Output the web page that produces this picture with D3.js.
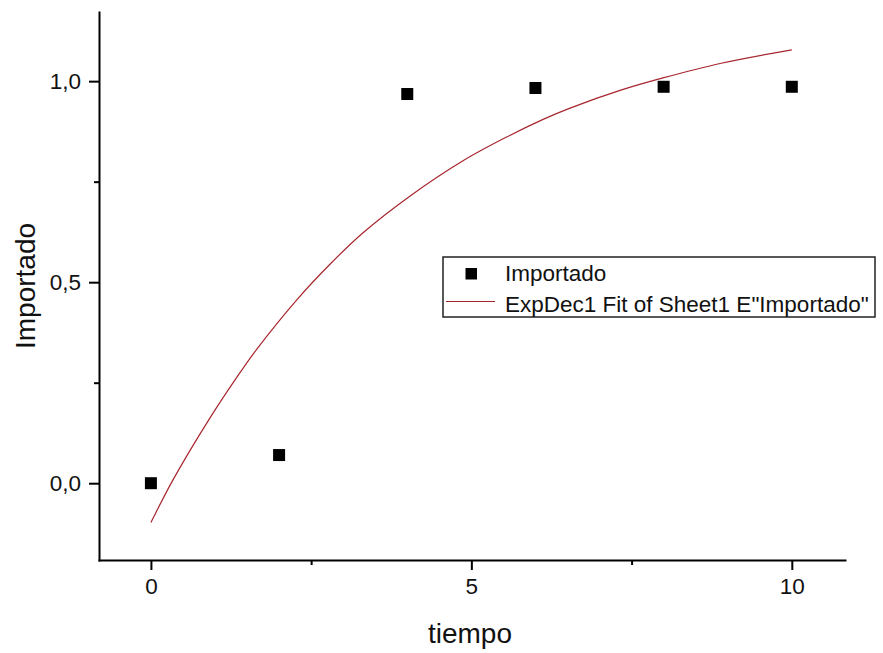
<!DOCTYPE html>
<meta charset="utf-8">
<style>
body { margin: 0; background: #fff; }
svg { font-family: "Liberation Sans", Arial, sans-serif; }
.axis path, .axis line { stroke: #000; stroke-width: 2; }
.axis text { font-size: 22.5px; fill: #111; }
</style>
<svg width="883" height="653"></svg>
<script src="https://cdnjs.cloudflare.com/ajax/libs/d3/7.8.5/d3.min.js"></script>
<script>
"use strict";

// data
var tiempo = [0, 2, 4, 6, 8, 10];
var importado = [0.0, 0.07, 0.968, 0.983, 0.986, 0.986];

// fitted curve (ExpDec1)
var fitX = [0, 0.34, 0.92, 1.39, 1.65, 2.27, 2.79, 3.31, 4.04, 4.87, 5.55, 6.12, 6.54, 7.32, 7.99, 8.88, 10];
var fitY = [-0.098, 0.007, 0.162, 0.275, 0.333, 0.455, 0.544, 0.623, 0.714, 0.802, 0.861, 0.905, 0.933, 0.977, 1.008, 1.044, 1.078];

var xTicks = [0, 5, 10];
var xMinor = [2.5, 7.5];
var yTicks = [0, 0.5, 1];
var yMinor = [0.25, 0.75];

var legendLabels = ["Importado", "ExpDec1 Fit of Sheet1 E\"Importado\""];

var svg = d3.select("svg");

var x = d3.scaleLinear().domain([-0.81, 10.83]).range([99, 845]);
var y = d3.scaleLinear().domain([-0.191, 1.172]).range([560, 12]);

var locale = d3.formatLocale({decimal: ",", thousands: ".", grouping: [3], currency: ["", ""]});
var fmtY = locale.format(".1f");

// minor ticks first, major on top
svg.append("g")
    .attr("class", "axis")
    .attr("transform", "translate(0,560)")
    .call(d3.axisBottom(x).tickValues(xMinor).tickSize(5).tickFormat(""))
    .select(".domain").remove();

svg.append("g")
    .attr("class", "axis")
    .attr("transform", "translate(99,0)")
    .call(d3.axisLeft(y).tickValues(yMinor).tickSize(5).tickFormat(""))
    .select(".domain").remove();

var xAxis = svg.append("g")
    .attr("class", "axis")
    .attr("transform", "translate(0,560)")
    .call(d3.axisBottom(x).tickValues(xTicks).tickSize(10).tickSizeOuter(0).tickPadding(8).tickFormat(d3.format("d")));

var yAxis = svg.append("g")
    .attr("class", "axis")
    .attr("transform", "translate(99,0)")
    .call(d3.axisLeft(y).tickValues(yTicks).tickSize(10).tickSizeOuter(0).tickPadding(8).tickFormat(fmtY));

xAxis.select(".domain").attr("stroke-linecap", "square");
yAxis.select(".domain").attr("stroke-linecap", "square");

// axis titles
svg.append("text")
    .attr("x", 470)
    .attr("y", 643)
    .attr("text-anchor", "middle")
    .attr("font-size", "28px")
    .attr("fill", "#111")
    .text("tiempo");

svg.append("text")
    .attr("transform", "translate(35,286) rotate(-90)")
    .attr("text-anchor", "middle")
    .attr("font-size", "28px")
    .attr("fill", "#111")
    .text("Importado");

// fit line
var fitData = fitX.map(function(d, i) { return [d, fitY[i]]; });

svg.append("path")
    .datum(fitData)
    .attr("fill", "none")
    .attr("stroke", "#a8262e")
    .attr("stroke-width", 1.2)
    .attr("d", d3.line()
        .x(function(d) { return x(d[0]); })
        .y(function(d) { return y(d[1]); })
        .curve(d3.curveCatmullRom));

// data squares
var sq = 12;
svg.append("g")
    .selectAll("rect")
    .data(tiempo)
    .enter().append("rect")
      .attr("x", function(d) { return x(d) - sq / 2; })
      .attr("y", function(d, i) { return y(importado[i]) - sq / 2; })
      .attr("width", sq)
      .attr("height", sq)
      .attr("fill", "#000");

// legend
var legend = svg.append("g");

legend.append("rect")
    .attr("x", 443)
    .attr("y", 257)
    .attr("width", 432)
    .attr("height", 60)
    .attr("fill", "#fff")
    .attr("stroke", "#222")
    .attr("stroke-width", 1.5);

legend.append("rect")
    .attr("x", 465.5)
    .attr("y", 268)
    .attr("width", 11.5)
    .attr("height", 11.5)
    .attr("fill", "#000");

legend.append("line")
    .attr("x1", 446)
    .attr("x2", 495)
    .attr("y1", 301.5)
    .attr("y2", 301.5)
    .attr("stroke", "#a8262e")
    .attr("stroke-width", 1.2);

legend.selectAll("text.lg")
    .data(legendLabels)
    .enter().append("text")
      .attr("class", "lg")
      .attr("x", 505)
      .attr("y", function(d, i) { return 281 + i * 30.5; })
      .attr("font-size", "22.5px")
      .attr("fill", "#111")
      .text(function(d) { return d; });
</script>
